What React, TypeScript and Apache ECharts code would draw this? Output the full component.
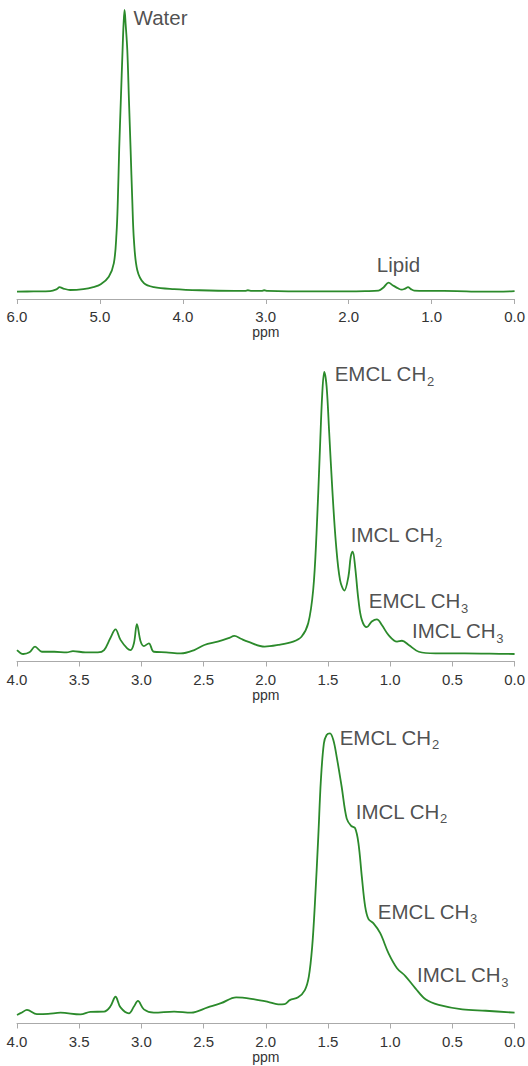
import React, { useEffect, useRef } from "react";
import * as echarts from "echarts";

// ---- Data (ppm, intensity normalised to tallest peak = 100) ----
const topPpm = [6.0, 5.8, 5.6, 5.52, 5.487, 5.44, 5.36, 5.2, 5.08, 4.99, 4.893, 4.832, 4.8, 4.784, 4.768, 4.748, 4.727, 4.715, 4.703, 4.69, 4.67, 4.65, 4.63, 4.61, 4.59, 4.55, 4.47, 4.35, 4.105, 3.8, 3.38, 3.25, 3.216, 3.17, 3.05, 3.02, 2.98, 2.5, 2.0, 1.8, 1.64, 1.58, 1.519, 1.47, 1.4, 1.36, 1.32, 1.285, 1.25, 1.21, 1.0, 0.7, 0.4, 0.2, 0.0];
const topVal = [0.1, 0.2, 0.3, 1.0, 1.7, 1.2, 0.7, 1.0, 1.7, 2.7, 5.4, 10.2, 20.8, 32.6, 50.4, 68, 85.8, 95, 100, 95, 85.8, 68, 50.4, 32.6, 18.4, 7.8, 3.1, 1.7, 1.0, 0.6, 0.4, 0.4, 0.6, 0.4, 0.4, 0.6, 0.4, 0.2, 0.2, 0.3, 0.5, 1.6, 3.3, 2.4, 1.2, 0.8, 1.2, 1.7, 1.0, 0.5, 0.4, 0.3, 0.1, 0.1, 0.3];

const midPpm = [4.0, 3.95, 3.9, 3.855, 3.8, 3.7, 3.6, 3.55, 3.45, 3.35, 3.3, 3.25, 3.208, 3.168, 3.114, 3.087, 3.06, 3.036, 3.006, 2.98, 2.94, 2.9, 2.8, 2.683, 2.575, 2.494, 2.387, 2.3, 2.252, 2.2, 2.144, 2.009, 1.9, 1.78, 1.713, 1.659, 1.619, 1.592, 1.565, 1.546, 1.53, 1.511, 1.49, 1.465, 1.436, 1.403, 1.368, 1.336, 1.317, 1.301, 1.282, 1.255, 1.228, 1.188, 1.148, 1.107, 1.067, 1.013, 0.945, 0.905, 0.851, 0.77, 0.636, 0.4, 0.2, 0.0];
const midVal = [1.4, 0.0, 0.6, 2.6, 0.8, 0.8, 0.6, 1.0, 0.6, 0.6, 1.4, 5.6, 8.7, 5.0, 2.0, 1.4, 3.8, 10.6, 4.4, 2.8, 3.8, 0.8, 0.6, 0.2, 1.4, 3.2, 4.4, 5.6, 6.4, 5.4, 4.4, 2.6, 3.2, 4.4, 6.1, 10.9, 22.7, 42.8, 72.3, 92.4, 100, 94.8, 78.3, 58.2, 39.2, 26.2, 22.5, 27.4, 34.5, 36.3, 31.0, 19.1, 12.1, 9.5, 11.5, 12.3, 10.3, 6.7, 4.4, 4.7, 3.2, 0.8, 0.2, 0.2, 0.1, 0.0];

const botPpm = [4.0, 3.96, 3.92, 3.84, 3.75, 3.65, 3.49, 3.41, 3.3, 3.25, 3.208, 3.168, 3.1, 3.06, 3.028, 2.98, 2.9, 2.737, 2.6, 2.467, 2.36, 2.238, 2.09, 1.983, 1.9, 1.848, 1.807, 1.74, 1.686, 1.654, 1.627, 1.605, 1.578, 1.557, 1.533, 1.511, 1.484, 1.457, 1.43, 1.39, 1.35, 1.314, 1.282, 1.255, 1.228, 1.201, 1.174, 1.134, 1.08, 1.013, 0.945, 0.878, 0.797, 0.716, 0.61, 0.42, 0.232, 0.0];
const botVal = [-0.7, 0.2, 1.1, -0.4, -0.3, 0.1, -0.5, 0.4, 0.5, 2.3, 5.8, 2.0, -0.1, 2.3, 4.3, 1.3, 0.1, 0.5, 0.1, 2.0, 3.5, 5.6, 4.9, 4.0, 3.1, 3.2, 4.6, 5.6, 8.2, 13.0, 23.7, 39.2, 63.0, 83.2, 96.3, 99.3, 99.9, 97.5, 91.5, 80.8, 69.5, 66.8, 66.0, 60.6, 48.7, 38.0, 33.5, 32.0, 28.5, 21.3, 16.0, 13.2, 8.8, 4.9, 2.9, 1.3, 0.8, 0.1];

// Peak annotations: [text, subscript, ppm, intensity]
const topLabels: [string, string, number, number][] = [
  ["Water", "", 4.594, 97.5],
  ["Lipid", "", 1.661, 9.9],
];
const midLabels: [string, string, number, number][] = [
  ["EMCL CH", "2", 1.446, 99.3],
  ["IMCL CH", "2", 1.317, 42.2],
  ["EMCL CH", "3", 1.172, 18.8],
  ["IMCL CH", "3", 0.824, 8.2],
];
const botLabels: [string, string, number, number][] = [
  ["EMCL CH", "2", 1.406, 98.4],
  ["IMCL CH", "2", 1.277, 72.1],
  ["EMCL CH", "3", 1.099, 36.4],
  ["IMCL CH", "3", 0.784, 13.6],
];

const FONT = "'Liberation Sans', Arial, sans-serif";
const LINE = "#2b8a2b";

function pairs(x: number[], y: number[]) {
  return x.map((v, i) => [v, y[i]]);
}

function labelSeries(idx: number, labels: [string, string, number, number][]) {
  return {
    type: "scatter",
    xAxisIndex: idx,
    yAxisIndex: idx,
    symbolSize: 0,
    silent: true,
    data: labels.map((l) => ({
      value: [l[2], l[3]],
      label: {
        show: true,
        position: [0, 0],
        align: "left",
        verticalAlign: "middle",
        formatter: l[1] ? `{a|${l[0]}}{s|${l[1]}}` : `{a|${l[0]}}`,
        rich: {
          a: { fontSize: 20.5, fontFamily: FONT, color: "#222", lineHeight: 28, verticalAlign: "middle" },
          s: { fontSize: 13, fontFamily: FONT, color: "#222", lineHeight: 28, verticalAlign: "bottom" },
        },
      },
    })),
  };
}

function xAxis(idx: number, max: number, interval: number) {
  return {
    type: "value",
    gridIndex: idx,
    min: 0,
    max,
    interval,
    inverse: true,
    name: "ppm",
    nameLocation: "middle",
    nameGap: 26,
    nameTextStyle: { fontSize: 14, fontFamily: FONT, color: "#333" },
    axisLine: { show: true, onZero: false, lineStyle: { color: "#aaaaaa", width: 1 } },
    axisTick: { show: true, length: 5, lineStyle: { color: "#aaaaaa" } },
    axisLabel: {
      fontSize: 15,
      fontFamily: FONT,
      color: "#333",
      margin: 10,
      formatter: (v: number) => v.toFixed(1),
    },
    splitLine: { show: false },
  };
}

function yAxis(idx: number, min: number) {
  return { type: "value", gridIndex: idx, min, max: 100, show: false, splitLine: { show: false } };
}

export default function App() {
  const ref = useRef<HTMLDivElement>(null);
  useEffect(() => {
    if (!ref.current) return;
    const chart = echarts.init(ref.current, null, { renderer: "svg" });
    const lineStyle = { color: LINE, width: 1.8, join: "round" };
    const common = { type: "line", showSymbol: false, smooth: 0.35, lineStyle };
    chart.setOption({
      animation: false,
      backgroundColor: "#ffffff",
      grid: [
        { left: 17, width: 499.5, top: 10, height: 289 },
        { left: 17, width: 499.5, top: 372, height: 289.5 },
        { left: 17, width: 499.5, top: 733, height: 290.5 },
      ],
      xAxis: [xAxis(0, 6, 1), xAxis(1, 4, 0.5), xAxis(2, 4, 0.5)],
      yAxis: [yAxis(0, -2.5), yAxis(1, -2.66), yAxis(2, -3.75)],
      series: [
        { ...common, xAxisIndex: 0, yAxisIndex: 0, data: pairs(topPpm, topVal) },
        { ...common, xAxisIndex: 1, yAxisIndex: 1, data: pairs(midPpm, midVal) },
        { ...common, xAxisIndex: 2, yAxisIndex: 2, data: pairs(botPpm, botVal) },
        labelSeries(0, topLabels),
        labelSeries(1, midLabels),
        labelSeries(2, botLabels),
      ],
    });
    return () => chart.dispose();
  }, []);
  return (
    <div
      ref={ref}
      style={{ position: "absolute", left: 0, top: 0, width: 528, height: 1066 }}
    />
  );
}
